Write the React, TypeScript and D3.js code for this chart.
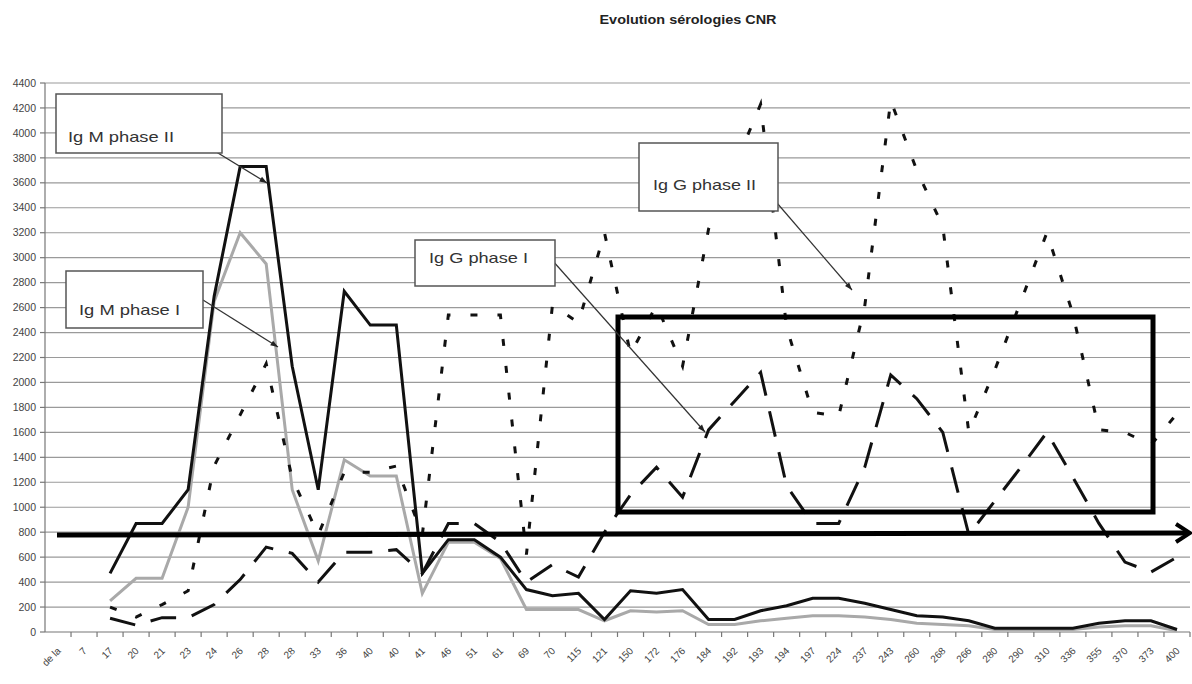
import React from "react";
import * as d3 from "d3";

const categories = ["de la", "7", "17", "20", "21", "23", "24", "26", "28", "28", "33", "36", "40", "40", "41", "46", "51", "61", "69", "70", "115", "121", "150", "172", "176", "184", "192", "193", "194", "197", "224", "237", "243", "260", "268", "266", "280", "290", "310", "336", "355", "370", "373", "400"];

const igMPhaseII = [null, null, 470, 870, 870, 1140, 2690, 3730, 3730, 2130, 1140, 2730, 2460, 2460, 470, 740, 740, 600, 340, 290, 310, 100, 330, 310, 340, 100, 100, 170, 210, 270, 270, 230, 180, 130, 120, 90, 30, 30, 30, 30, 70, 90, 90, 20];
const igMPhaseI = [null, null, 250, 430, 430, 1000, 2650, 3200, 2950, 1140, 570, 1380, 1250, 1250, 310, 720, 720, 590, 180, 180, 180, 90, 170, 160, 170, 60, 60, 90, 110, 130, 130, 120, 100, 70, 60, 50, 20, 20, 20, 20, 40, 50, 50, 10];
const igGPhaseII = [null, null, 200, 120, 220, 330, 1330, 1740, 2150, 1230, 780, 1280, 1280, 1330, 780, 2540, 2540, 2540, 620, 2620, 2480, 3200, 2230, 2620, 2130, 3230, 3730, 4230, 2440, 1760, 1730, 2610, 4260, 3700, 3250, 1600, 2100, 2650, 3200, 2550, 1620, 1600, 1500, 1750];
const igGPhaseI = [null, null, 110, 55, 115, 115, 220, 420, 680, 630, 400, 640, 640, 660, 470, 870, 870, 720, 400, 540, 440, 800, 1100, 1320, 1080, 1620, 1850, 2080, 1170, 870, 870, 1320, 2060, 1870, 1600, 780, 1050, 1320, 1600, 1240, 870, 560, 480, 600];

const yTicks = d3.range(0, 4401, 200);
const title = "Evolution sérologies CNR";

const W = 1192, H = 684;
const left = 45, right = 1190, top = 83, bottom = 632;

export default function App() {
  const idx = categories.map((_, i) => i);
  const x = d3.scaleBand<number>().domain(idx).range([left, right]).paddingInner(0).paddingOuter(0);
  const y = d3.scaleLinear().domain([0, 4400]).range([bottom, top]);
  const cx = (i: number) => (x(i) as number) + x.bandwidth() / 2;

  const line = d3
    .line<number | null>()
    .defined((d) => d !== null)
    .x((_, i) => cx(i))
    .y((d) => y(d as number));

  const font = "'Liberation Sans', Arial, sans-serif";

  const boxes = [
    { label: "Ig M phase II", x0: 56, y0: 94, x1: 222, y1: 153, tx: 68, ty: 137, tl: 106, ax0: 200, ay0: 142, ax1: 267, ay1: 183 },
    { label: "Ig M phase I", x0: 66, y0: 271, x1: 203, y1: 328, tx: 79, ty: 310, tl: 101, ax0: 203, ay0: 300, ax1: 278, ay1: 347 },
    { label: "Ig G phase I", x0: 415, y0: 240, x1: 555, y1: 286, tx: 429, ty: 258, tl: 99, ax0: 552, ay0: 260, ax1: 705, ay1: 432 },
    { label: "Ig G phase II", x0: 639, y0: 143, x1: 778, y1: 211, tx: 653, ty: 185, tl: 103, ax0: 777, ay0: 203, ax1: 852, ay1: 290 },
  ];

  const arrowHead = (x0: number, y0: number, x1: number, y1: number, size = 8) => {
    const a = Math.atan2(y1 - y0, x1 - x0);
    const p1 = [x1 - size * Math.cos(a - 0.35), y1 - size * Math.sin(a - 0.35)];
    const p2 = [x1 - size * Math.cos(a + 0.35), y1 - size * Math.sin(a + 0.35)];
    return `${x1},${y1} ${p1[0]},${p1[1]} ${p2[0]},${p2[1]}`;
  };

  return (
    <svg width={W} height={H} style={{ position: "absolute", left: 0, top: 0, background: "#fff" }} fontFamily={font}>
      <rect x={0} y={0} width={W} height={H} fill="#fff" />
      <text x={688} y={24} textAnchor="middle" fontSize={13} fontWeight="bold" fill="#222" textLength={177} lengthAdjust="spacingAndGlyphs">
        {title}
      </text>

      {/* gridlines */}
      {yTicks.filter((t) => t > 0).map((t) => (
        <line key={t} x1={left} x2={right} y1={y(t)} y2={y(t)} stroke="#9a9a9a" strokeWidth={1.2} />
      ))}
      {/* y axis */}
      <line x1={left} x2={left} y1={top} y2={bottom} stroke="#777" strokeWidth={1.2} />
      {yTicks.map((t) => (
        <g key={"yt" + t}>
          <line x1={left - 5} x2={left} y1={y(t)} y2={y(t)} stroke="#777" strokeWidth={1.2} />
          <text x={36} y={y(t)} dy="0.35em" textAnchor="end" fontSize={10.5} fill="#444">
            {t}
          </text>
        </g>
      ))}
      {/* x axis */}
      <line x1={left} x2={right} y1={bottom} y2={bottom} stroke="#777" strokeWidth={1.2} />
      {idx.map((i) => (
        <line key={"xt" + i} x1={(x(i) as number) + x.bandwidth()} x2={(x(i) as number) + x.bandwidth()} y1={bottom} y2={bottom + 5} stroke="#777" strokeWidth={1.2} />
      ))}
      {categories.map((c, i) => (
        <text key={"xl" + i} transform={`translate(${cx(i) + 1},${649}) rotate(-45)`} dy="0.35em" textAnchor="end" fontSize={10} fill="#444">
          {c}
        </text>
      ))}

      {/* series */}
      <path d={line(igMPhaseI) || ""} fill="none" stroke="#a9a9a9" strokeWidth={3} strokeLinejoin="miter" />
      <path d={line(igMPhaseII) || ""} fill="none" stroke="#111" strokeWidth={3} strokeLinejoin="miter" />
      <path d={line(igGPhaseII) || ""} fill="none" stroke="#111" strokeWidth={3} strokeDasharray="7,20" />
      <path d={line(igGPhaseI) || ""} fill="none" stroke="#111" strokeWidth={3} strokeDasharray="26,16" />

      {/* big rectangle */}
      <rect x={618} y={317} width={535} height={195} fill="none" stroke="#000" strokeWidth={5} />
      {/* horizontal arrow */}
      <line x1={57} y1={535} x2={1188} y2={533} stroke="#000" strokeWidth={5} />
      <polyline points="1176,524 1190,533 1176,542" fill="none" stroke="#000" strokeWidth={4} />

      {/* annotations */}
      {boxes.map((b) => (
        <g key={b.label}>
          <line x1={b.ax0} y1={b.ay0} x2={b.ax1} y2={b.ay1} stroke="#333" strokeWidth={1.2} />
          <polygon points={arrowHead(b.ax0, b.ay0, b.ax1, b.ay1)} fill="#222" />
          <rect x={b.x0} y={b.y0} width={b.x1 - b.x0} height={b.y1 - b.y0} fill="#fff" stroke="#555" strokeWidth={1.5} />
          <text x={b.tx} y={b.ty} dy="0.35em" fontSize={15} fill="#333" textLength={b.tl} lengthAdjust="spacingAndGlyphs">
            {b.label}
          </text>
        </g>
      ))}
    </svg>
  );
}
